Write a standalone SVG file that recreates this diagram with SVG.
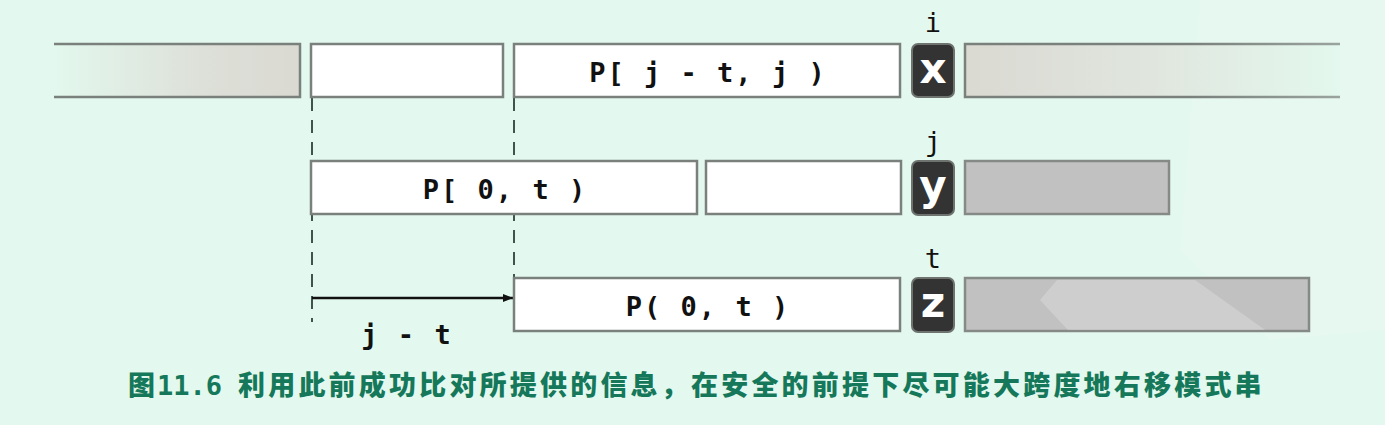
<svg xmlns="http://www.w3.org/2000/svg" width="1385" height="425" viewBox="0 0 1385 425">
<style>
.box{fill:#ffffff;stroke:#7a817d;stroke-width:2.5}
.gray{fill:#c1c1c1;stroke:#858a87;stroke-width:2.5}
.edge{stroke:#7a817d;stroke-width:2.5;fill:none}
.blk{fill:#333333;stroke:#6e7370;stroke-width:2}
.blkt{font-family:"DejaVu Sans",sans-serif;font-weight:bold;font-size:42px;fill:#ffffff;text-anchor:middle}
.lbl{font-family:"DejaVu Sans Mono","Liberation Mono",monospace;font-weight:bold;font-size:27px;fill:#111111;letter-spacing:2px;text-anchor:middle}
.idx{font-family:"DejaVu Sans Mono","Liberation Mono",monospace;font-size:27px;fill:#111111;text-anchor:middle}
.dash{stroke:#3e544c;stroke-width:2;stroke-dasharray:13 9;fill:none}
.cap{font-family:"Noto Sans CJK SC",sans-serif;font-weight:900;font-size:27px;fill:#16785a}
.capd{font-family:"DejaVu Sans Mono",monospace;font-weight:bold;font-size:27px;fill:#16785a}
</style>
<defs>
<linearGradient id="gl" x1="0" y1="0" x2="1" y2="0">
<stop offset="0" stop-color="#e3f8ee"/>
<stop offset="0.6" stop-color="#dde0d8"/>
<stop offset="1" stop-color="#dad9d2"/>
</linearGradient>
<linearGradient id="gr" x1="0" y1="0" x2="1" y2="0">
<stop offset="0" stop-color="#dad9d2"/>
<stop offset="0.5" stop-color="#e0e6de"/>
<stop offset="1" stop-color="#e3f8ee"/>
</linearGradient>
<linearGradient id="gline" x1="0" y1="0" x2="1" y2="0">
<stop offset="0" stop-color="#7a817d"/>
<stop offset="0.6" stop-color="#7a817d"/>
<stop offset="1" stop-color="#9aa39e"/>
</linearGradient>
<marker id="ah" markerWidth="10" markerHeight="8" refX="10" refY="4" orient="auto" markerUnits="userSpaceOnUse">
<path d="M0,0 L10,4 L0,8 Z" fill="#111111"/>
</marker>
</defs>
<rect x="0" y="0" width="1385" height="425" fill="#e3f8ee"/>
<polygon points="1200,0 1385,0 1385,330 1270,340 1180,250" fill="#ffffff" opacity="0.12"/>

<g id="connectors">
<line class="dash" x1="312" y1="98" x2="312" y2="322"/>
<line class="dash" x1="514" y1="98" x2="514" y2="277"/>
<line x1="312" y1="298" x2="513" y2="298" stroke="#111111" stroke-width="2.5" marker-end="url(#ah)"/>
<text class="lbl" x="407" y="344">j - t</text>
</g>

<g id="row1">
<g id="r1-left">
<rect x="54" y="44" width="246" height="53" fill="url(#gl)"/>
<path class="edge" d="M54,44 H300 V97 H54"/>
</g>
<g id="r1-box"><rect class="box" x="311" y="44" width="192" height="53"/></g>
<g id="r1-pattern">
<rect class="box" x="514" y="44" width="386" height="53"/>
<text class="lbl" x="708" y="82">P[ j - t, j )</text>
</g>
<g id="r1-x">
<rect class="blk" x="912" y="44" width="42" height="53" rx="6"/>
<text class="blkt" x="933" y="83">x</text>
<text class="idx" x="933" y="32">i</text>
</g>
<g id="r1-right">
<rect x="965" y="44" width="375" height="53" fill="url(#gr)"/>
<path d="M1340,44 H965 V97 H1340" stroke="url(#gline)" stroke-width="2.5" fill="none"/>
</g>
</g>

<g id="row2">
<g id="r2-pattern">
<rect class="box" x="311" y="161" width="386" height="53"/>
<text class="lbl" x="505" y="199">P[ 0, t )</text>
</g>
<g id="r2-box"><rect class="box" x="706" y="161" width="195" height="53"/></g>
<g id="r2-y">
<rect class="blk" x="912" y="161" width="42" height="54" rx="6"/>
<text class="blkt" x="933" y="200">y</text>
<text class="idx" x="933" y="151">j</text>
</g>
<g id="r2-gray"><rect class="gray" x="965" y="161" width="204" height="53"/></g>
</g>

<g id="row3">
<g id="r3-pattern">
<rect class="box" x="514" y="278" width="386" height="53"/>
<text class="lbl" x="708" y="316">P( 0, t )</text>
</g>
<g id="r3-z">
<rect class="blk" x="912" y="278" width="42" height="54" rx="6"/>
<text class="blkt" x="933" y="317">z</text>
<text class="idx" x="933" y="268">t</text>
</g>
<g id="r3-gray">
<rect class="gray" x="965" y="278" width="344" height="53"/>
<polygon points="1057,280 1195,280 1265,330 1068,330 1040,300" fill="#ffffff" opacity="0.22"/>
</g>
</g>

<g id="caption">
<text class="cap" x="128" y="395">图</text>
<text class="capd" x="157" y="395">11.6</text>
<text class="cap" x="238" y="395" letter-spacing="3.2">利用此前成功比对所提供的信息，在安全的前提下尽可能大跨度地右移模式串</text>
</g>
</svg>
